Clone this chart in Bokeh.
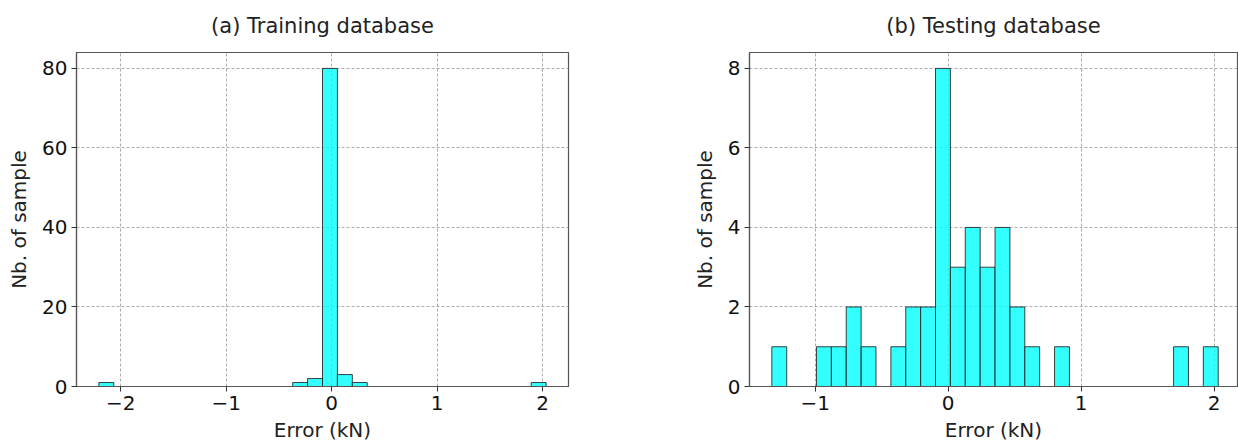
import numpy as np
from bokeh.plotting import figure
from bokeh.layouts import row
from bokeh.models import FixedTicker, Range1d, ColumnDataSource
from bokeh.embed import file_html
from bokeh.resources import INLINE

# ---- data ----
train_title = "(a) Training database"
test_title = "(b) Testing database"
x_label = "Error (kN)"
y_label = "Nb. of sample"

train_min, train_max = -2.207, 2.034
train_counts = [1, 0, 0, 0, 0, 0, 0, 0, 0, 0,
                0, 0, 0, 1, 2, 80, 3, 1, 0, 0,
                0, 0, 0, 0, 0, 0, 0, 0, 0, 1]
train_xticks = [-2, -1, 0, 1, 2]
train_yticks = [0, 20, 40, 60, 80]

test_min, test_max = -1.326, 2.030
test_counts = [1, 0, 0, 1, 1, 2, 1, 0, 1, 2,
               2, 8, 3, 4, 3, 4, 2, 1, 0, 1,
               0, 0, 0, 0, 0, 0, 0, 1, 0, 1]
test_xticks = [-1, 0, 1, 2]
test_yticks = [0, 2, 4, 6, 8]

FONT = "DejaVu Sans"


def minus(v):
    return str(v).replace("-", "\u2212")


def make_hist(title, lo, hi, counts, xticks, yticks, xr, yr,
              width, b_left, b_right, frame_w):
    edges = np.linspace(lo, hi, len(counts) + 1)
    src = ColumnDataSource(dict(left=edges[:-1], right=edges[1:],
                                top=counts, bottom=[0] * len(counts)))
    p = figure(width=width, height=443, output_backend="svg",
               toolbar_location=None, title=title,
               x_range=Range1d(*xr), y_range=Range1d(*yr),
               min_border_left=b_left, min_border_right=b_right,
               min_border_top=52, min_border_bottom=57,
               frame_width=frame_w, frame_height=334)
    p.quad(left="left", right="right", top="top", bottom="bottom", source=src,
           fill_color="#00ffff", fill_alpha=0.8,
           line_color="#222222", line_width=1, line_alpha=0.85)

    p.title.align = "center"
    p.title.vertical_align = "top"
    p.title.text_font = FONT
    p.title.text_font_size = "21px"
    p.title.text_font_style = "normal"
    p.title.text_color = "#222222"
    p.title.standoff = 26

    p.xaxis.ticker = FixedTicker(ticks=xticks)
    p.yaxis.ticker = FixedTicker(ticks=yticks)
    p.xaxis.major_label_overrides = {t: minus(t) for t in xticks}
    p.yaxis.major_label_overrides = {t: minus(t) for t in yticks}
    p.xaxis.axis_label = x_label
    p.yaxis.axis_label = y_label
    for ax in (p.xaxis, p.yaxis):
        ax.axis_label_text_font = FONT
        ax.axis_label_text_font_size = "20px"
        ax.axis_label_text_font_style = "normal"
        ax.axis_label_text_color = "#222222"
        ax.major_label_text_font = FONT
        ax.major_label_text_font_size = "20px"
        ax.major_label_text_color = "#111111"
        ax.major_tick_in = 0
        ax.major_tick_out = 5
        ax.major_tick_line_color = "#333333"
        ax.minor_tick_line_color = None
        ax.axis_line_color = "#555555"
        ax.axis_line_width = 1.2
        ax.major_label_standoff = 4
    p.xaxis.axis_label_standoff = 5
    p.yaxis.axis_label_standoff = 8

    p.outline_line_color = "#555555"
    p.outline_line_width = 1.2
    p.outline_line_alpha = 1
    for g in (p.xgrid, p.ygrid):
        g.grid_line_color = "#8c8c8c"
        g.grid_line_dash = "3 2"
        g.grid_line_width = 0.9
        g.grid_line_alpha = 0.8
    p.background_fill_color = "white"
    p.border_fill_color = "white"
    return p


p1 = make_hist(train_title, train_min, train_max, train_counts,
               train_xticks, train_yticks, (-2.419, 2.246), (0, 84),
               620, 76, 52, 492)
p2 = make_hist(test_title, test_min, test_max, test_counts,
               test_xticks, test_yticks, (-1.494, 2.175), (0, 8.4),
               618, 129, 1, 488)

layout = row(p1, p2, spacing=0)
open("out.html", "w").write(file_html(layout, INLINE))
